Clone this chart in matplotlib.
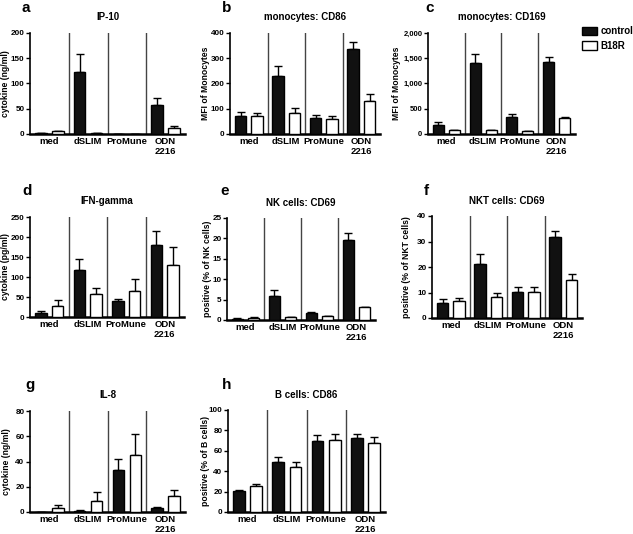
import matplotlib.pyplot as plt
import numpy as np
from matplotlib.ticker import FuncFormatter
from matplotlib.patches import Patch

plt.rcParams['font.family'] = ['Liberation Sans', 'DejaVu Sans']
plt.rcParams['font.weight'] = 'bold'

groups = ['med', 'dSLIM', 'ProMune', 'ODN\n2216']

# panel data: control mean, control err, B18R mean, B18R err
ip10_ctrl = [2, 123, 0, 58]
ip10_ctrl_err = [0.5, 35, 0, 13]
ip10_b18r = [5, 2, 0, 12]
ip10_b18r_err = [1.5, 0.5, 0, 3]

cd86_mono_ctrl = [72, 230, 62, 338]
cd86_mono_ctrl_err = [16, 40, 12, 27]
cd86_mono_b18r = [70, 82, 58, 130]
cd86_mono_b18r_err = [12, 20, 14, 28]

cd169_ctrl = [170, 1410, 330, 1430]
cd169_ctrl_err = [60, 170, 70, 90]
cd169_b18r = [80, 70, 50, 310]
cd169_b18r_err = [8, 8, 8, 30]

ifng_ctrl = [10, 117, 39, 180]
ifng_ctrl_err = [4, 27, 5, 35]
ifng_b18r = [28, 58, 65, 131]
ifng_b18r_err = [14, 14, 31, 45]

nk_ctrl = [0.3, 5.8, 1.6, 19.5]
nk_ctrl_err = [0.1, 1.6, 0.3, 1.8]
nk_b18r = [0.6, 0.7, 0.9, 3.1]
nk_b18r_err = [0.1, 0.1, 0.15, 0.2]

nkt_ctrl = [6, 21, 10.2, 31.8]
nkt_ctrl_err = [1.5, 4.2, 2.0, 2.5]
nkt_b18r = [6.8, 8.3, 10.1, 14.8]
nkt_b18r_err = [1.2, 1.7, 1.9, 2.6]

il8_ctrl = [0, 1, 33, 3]
il8_ctrl_err = [0, 0.3, 9, 1]
il8_b18r = [3, 9, 45.5, 13]
il8_b18r_err = [2.5, 6.5, 16, 4.5]

bcd86_ctrl = [21, 49, 70, 72.5]
bcd86_ctrl_err = [1, 5, 5.5, 4]
bcd86_b18r = [25.5, 44.5, 71, 68]
bcd86_b18r_err = [2, 4.5, 5.5, 6]

W, H = 633, 534
fig = plt.figure(figsize=(W / 100, H / 100), dpi=100)


def panel(box, letter, title, ylabel, ymax, ystep, ctrl, ctrl_err, b18r, b18r_err,
          letter_xy, label_x, comma=False):
    left, right, top, bottom = box
    ax = fig.add_axes([left / W, 1 - bottom / H, (right - left) / W, (bottom - top) / H])
    x = np.arange(len(groups))
    bw = 0.3
    ax.bar(x - 0.22, ctrl, bw, color='#111111', edgecolor='black', linewidth=1, zorder=3)
    ax.bar(x + 0.22, b18r, bw, color='white', edgecolor='black', linewidth=1, zorder=3)
    ax.errorbar(x - 0.22, ctrl, yerr=[np.zeros(4), ctrl_err], fmt='none', ecolor='black',
                elinewidth=1, capsize=3, capthick=1, zorder=2)
    ax.errorbar(x + 0.22, b18r, yerr=[np.zeros(4), b18r_err], fmt='none', ecolor='black',
                elinewidth=1, capsize=3, capthick=1, zorder=2)
    for d in [0.5, 1.5, 2.5]:
        ax.axvline(d, color='#444444', linewidth=1, zorder=1)
    ax.set_xlim(-0.5, 3.5)
    ax.set_ylim(0, ymax)
    ax.set_yticks(np.arange(0, ymax + ystep / 2, ystep))
    if comma:
        ax.yaxis.set_major_formatter(FuncFormatter(lambda v, p: f'{int(v):,}'))
    ax.set_xticks(x)
    ax.set_xticklabels(groups, fontsize=6.8, fontweight='bold', linespacing=1.15)
    ax.tick_params(axis='x', length=0, pad=2)
    ax.tick_params(axis='y', length=3, width=1, labelsize=5.5 if comma else 5.9, pad=1)
    for t in ax.get_yticklabels():
        t.set_fontweight('bold')
    for s in ['top', 'right']:
        ax.spines[s].set_visible(False)
    ax.spines['left'].set_linewidth(1.2)
    ax.spines['bottom'].set_linewidth(1.8)
    ax.set_ylabel(ylabel, fontsize=6.2, fontweight='bold', va='center')
    ax.yaxis.set_label_coords((label_x - left) / (right - left), 0.5)
    ax.set_title(title, fontsize=7, fontweight='bold', pad=9)
    fig.text(letter_xy[0] / W, 1 - letter_xy[1] / H, letter, fontsize=11,
             fontweight='bold', ha='left', va='center')
    return ax


panel((30, 185, 33, 134), 'a', 'IP-10', 'cytokine (ng/ml)', 200, 50,
      ip10_ctrl, ip10_ctrl_err, ip10_b18r, ip10_b18r_err, (22, 8), 6)
panel((230, 380, 33, 134), 'b', 'monocytes: CD86', 'MFI of Monocytes', 400, 100,
      cd86_mono_ctrl, cd86_mono_ctrl_err, cd86_mono_b18r, cd86_mono_b18r_err, (222, 8), 206)
panel((428, 575, 33, 134), 'c', 'monocytes: CD169', 'MFI of Monocytes', 2000, 500,
      cd169_ctrl, cd169_ctrl_err, cd169_b18r, cd169_b18r_err, (425, 8), 397, comma=True)
panel((30, 184, 217, 317), 'd', 'IFN-gamma', 'cytokine (pg/ml)', 250, 50,
      ifng_ctrl, ifng_ctrl_err, ifng_b18r, ifng_b18r_err, (22, 191), 6)
panel((227, 375, 218, 320), 'e', 'NK cells: CD69', 'positive (% of NK cells)', 25, 5,
      nk_ctrl, nk_ctrl_err, nk_b18r, nk_b18r_err, (220, 191), 207)
panel((432, 582, 216, 318), 'f', 'NKT cells: CD69', 'positive (% of NKT cells)', 40, 10,
      nkt_ctrl, nkt_ctrl_err, nkt_b18r, nkt_b18r_err, (424, 191), 406)
panel((30, 185, 411, 512), 'g', 'IL-8', 'cytokine (ng/ml)', 80, 20,
      il8_ctrl, il8_ctrl_err, il8_b18r, il8_b18r_err, (25, 385), 7)
panel((228, 385, 410, 512), 'h', 'B cells: CD86', 'positive (% of B cells)', 100, 20,
      bcd86_ctrl, bcd86_ctrl_err, bcd86_b18r, bcd86_b18r_err, (222, 385), 206)

# legend
handles = [Patch(facecolor='#111111', edgecolor='black', label='control'),
           Patch(facecolor='white', edgecolor='black', label='B18R')]
fig.legend(handles=handles, loc='upper left', bbox_to_anchor=(582 / W, 1 - 26 / H),
           frameon=False, prop={'weight': 'bold', 'size': 7},
           handlelength=1.5, handleheight=0.9, handletextpad=0.4, labelspacing=0.5,
           borderaxespad=0, borderpad=0)

fig.savefig('out.png', dpi=100)
